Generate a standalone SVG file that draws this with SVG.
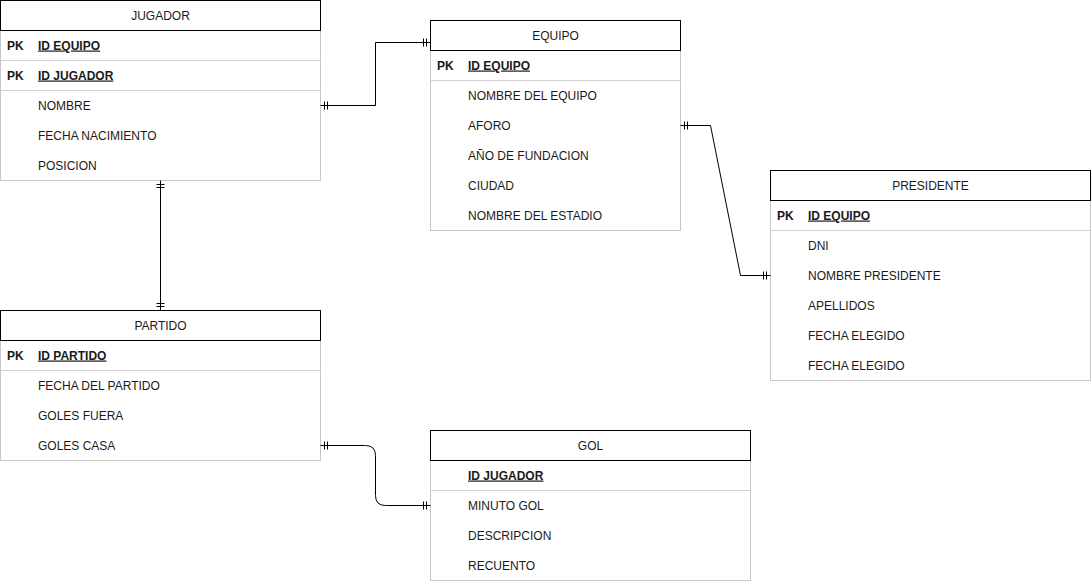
<svg xmlns="http://www.w3.org/2000/svg" width="1091" height="581" viewBox="0 0 1091 581">
<style>
text{font-family:"Liberation Sans",Arial,sans-serif;font-size:12px;fill:#1a1a1a}
.t{text-anchor:middle}
.k{font-weight:bold}
.u{font-weight:bold;text-decoration:underline}
.hd{fill:#fff;stroke:#000;stroke-width:1}
.bd{fill:#fff;stroke:#c8c8c8;stroke-width:1}
.sep{stroke:#d0d0d0;stroke-width:1}
.c{fill:none;stroke:#000;stroke-width:1}
</style>
<rect width="1091" height="581" fill="#fff"/>
<g id="jugador">
<rect class="bd" x="0.5" y="30.5" width="320" height="150"/>
<rect class="hd" x="0.5" y="0.5" width="320" height="30"/>
<text class="t" x="160.5" y="19.5">JUGADOR</text>
<line class="sep" x1="0.5" y1="60.5" x2="320.5" y2="60.5"/>
<line class="sep" x1="0.5" y1="90.5" x2="320.5" y2="90.5"/>
<text class="k" x="7" y="49.5">PK</text><text class="u" x="38" y="49.5">ID EQUIPO</text>
<text class="k" x="7" y="79.5">PK</text><text class="u" x="38" y="79.5">ID JUGADOR</text>
<text x="38" y="109.5">NOMBRE</text>
<text x="38" y="139.5">FECHA NACIMIENTO</text>
<text x="38" y="169.5">POSICION</text>
</g>
<g id="equipo">
<rect class="bd" x="430.5" y="50.5" width="250" height="180"/>
<rect class="hd" x="430.5" y="20.5" width="250" height="30"/>
<text class="t" x="555.5" y="39.5">EQUIPO</text>
<line class="sep" x1="430.5" y1="80.5" x2="680.5" y2="80.5"/>
<text class="k" x="437" y="69.5">PK</text><text class="u" x="468" y="69.5">ID EQUIPO</text>
<text x="468" y="99.5">NOMBRE DEL EQUIPO</text>
<text x="468" y="129.5">AFORO</text>
<text x="468" y="159.5">AÑO DE FUNDACION</text>
<text x="468" y="189.5">CIUDAD</text>
<text x="468" y="219.5">NOMBRE DEL ESTADIO</text>
</g>
<g id="presidente">
<rect class="bd" x="770.5" y="200.5" width="320" height="180"/>
<rect class="hd" x="770.5" y="170.5" width="320" height="30"/>
<text class="t" x="930.5" y="189.5">PRESIDENTE</text>
<line class="sep" x1="770.5" y1="230.5" x2="1090.5" y2="230.5"/>
<text class="k" x="777" y="219.5">PK</text><text class="u" x="808" y="219.5">ID EQUIPO</text>
<text x="808" y="249.5">DNI</text>
<text x="808" y="279.5">NOMBRE PRESIDENTE</text>
<text x="808" y="309.5">APELLIDOS</text>
<text x="808" y="339.5">FECHA ELEGIDO</text>
<text x="808" y="369.5">FECHA ELEGIDO</text>
</g>
<g id="partido">
<rect class="bd" x="0.5" y="340.5" width="320" height="120"/>
<rect class="hd" x="0.5" y="310.5" width="320" height="30"/>
<text class="t" x="160.5" y="329.5">PARTIDO</text>
<line class="sep" x1="0.5" y1="370.5" x2="320.5" y2="370.5"/>
<text class="k" x="7" y="359.5">PK</text><text class="u" x="38" y="359.5">ID PARTIDO</text>
<text x="38" y="389.5">FECHA DEL PARTIDO</text>
<text x="38" y="419.5">GOLES FUERA</text>
<text x="38" y="449.5">GOLES CASA</text>
</g>
<g id="gol">
<rect class="bd" x="430.5" y="460.5" width="320" height="120"/>
<rect class="hd" x="430.5" y="430.5" width="320" height="30"/>
<text class="t" x="590.5" y="449.5">GOL</text>
<line class="sep" x1="430.5" y1="490.5" x2="750.5" y2="490.5"/>
<text class="u" x="468" y="479.5">ID JUGADOR</text>
<text x="468" y="509.5">MINUTO GOL</text>
<text x="468" y="539.5">DESCRIPCION</text>
<text x="468" y="569.5">RECUENTO</text>
</g>
<g id="connectors">
<path class="c" d="M320.5 105.5 H375.5 V42.5 H430.5"/>
<path class="c" d="M324.5 101.5 V109.5 M327.5 101.5 V109.5 M423.5 38.5 V46.5 M426.5 38.5 V46.5"/>
<path class="c" d="M160.5 180.5 V310.5"/>
<path class="c" d="M156.5 184.5 H164.5 M156.5 187.5 H164.5 M156.5 303.5 H164.5 M156.5 306.5 H164.5"/>
<path class="c" d="M680.5 125.5 H710.5 L740.5 275.5 H770.5"/>
<path class="c" d="M684.5 121.5 V129.5 M687.5 121.5 V129.5 M763.5 271.5 V279.5 M766.5 271.5 V279.5"/>
<path class="c" d="M320.5 445.5 H365.5 Q375.5 445.5 375.5 455.5 V495.5 Q375.5 505.5 385.5 505.5 H430.5"/>
<path class="c" d="M324.5 441.5 V449.5 M327.5 441.5 V449.5 M423.5 501.5 V509.5 M426.5 501.5 V509.5"/>
</g>
</svg>
